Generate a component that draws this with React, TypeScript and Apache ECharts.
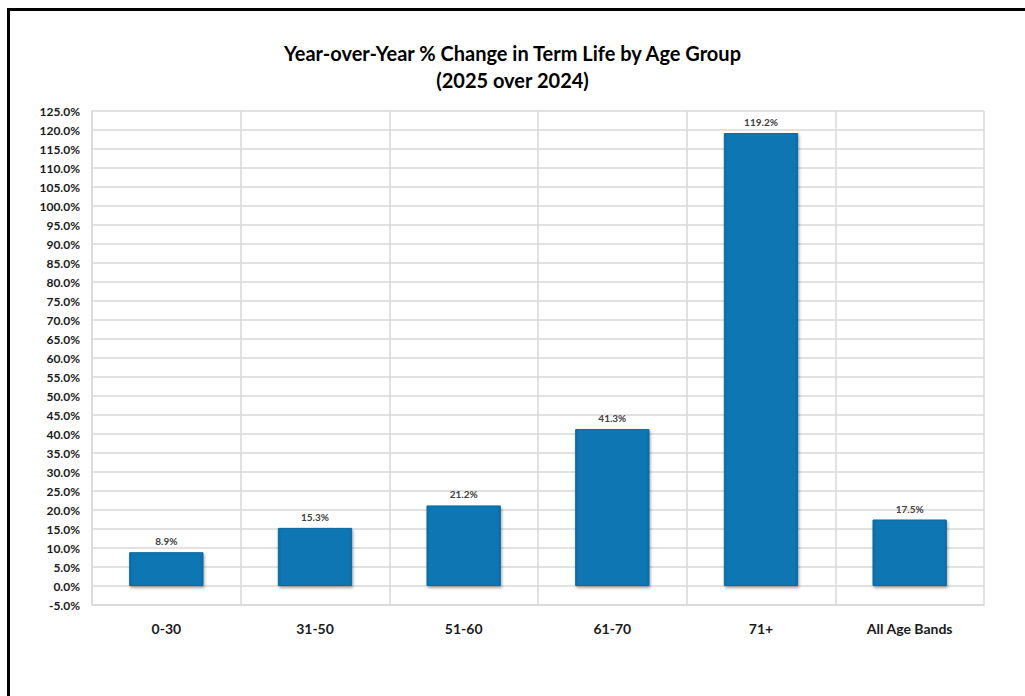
import React, { useEffect, useRef } from "react";
import * as echarts from "echarts";

const categories = ["0-30", "31-50", "51-60", "61-70", "71+", "All Age Bands"];
const values = [8.9, 15.3, 21.2, 41.3, 119.2, 17.5];
const yMin = -5;
const yMax = 125;
const yStep = 5;
const titleText = "Year-over-Year % Change in Term Life by Age Group\n(2025 over 2024)";

const FONT = "Lato, 'Open Sans', sans-serif";

export default function App() {
  const ref = useRef<HTMLDivElement>(null);
  useEffect(() => {
    if (!ref.current) return;
    const chart = echarts.init(ref.current, undefined, { renderer: "svg" });
    chart.setOption({
      animation: false,
      backgroundColor: "#ffffff",
      title: {
        text: titleText,
        left: "center",
        top: 34,
        textStyle: {
          fontFamily: FONT,
          fontSize: 20,
          fontWeight: "bold",
          color: "#000000",
          lineHeight: 27,
        },
      },
      graphic: [
        { type: "line", shape: { x1: 7, y1: 9.5, x2: 1025, y2: 9.5 }, style: { stroke: "#000", lineWidth: 3 } },
        { type: "line", shape: { x1: 8.5, y1: 8, x2: 8.5, y2: 696 }, style: { stroke: "#000", lineWidth: 3 } },
      ],
      grid: { left: 92, right: 41, top: 111, bottom: 91, containLabel: false },
      xAxis: {
        type: "category",
        data: categories,
        axisLine: { onZero: false, lineStyle: { color: "#d9d9d9", width: 1.5 } },
        axisTick: { show: false },
        splitLine: { show: true, lineStyle: { color: "#d9d9d9", width: 1.5 } },
        axisLabel: {
          fontFamily: FONT,
          fontSize: 14,
          fontWeight: "bold",
          color: "#1a1a1a",
          margin: 16,
        },
      },
      yAxis: {
        type: "value",
        min: yMin,
        max: yMax,
        interval: yStep,
        axisLine: { show: true, lineStyle: { color: "#d9d9d9", width: 1.5 } },
        axisTick: { show: false },
        splitLine: { show: true, lineStyle: { color: "#d9d9d9", width: 1.5 } },
        axisLabel: {
          fontFamily: FONT,
          fontSize: 12,
          fontWeight: "bold",
          color: "#1a1a1a",
          margin: 12,
          formatter: (v: number) => v.toFixed(1) + "%",
        },
      },
      series: [
        {
          type: "bar",
          data: values,
          barWidth: "50%",
          itemStyle: {
            color: new echarts.graphic.LinearGradient(0, 0, 1, 0, [
              { offset: 0, color: "#0a6aa3" },
              { offset: 0.04, color: "#0b76b3" },
              { offset: 0.96, color: "#0b76b3" },
              { offset: 1, color: "#0a6aa3" },
            ]),
            borderColor: "#0a689f",
            borderWidth: 1,
            shadowColor: "rgba(0,0,0,0.35)",
            shadowBlur: 3,
            shadowOffsetY: 2,
            shadowOffsetX: 1,
          },
          label: {
            show: true,
            position: "top",
            distance: 6,
            fontFamily: FONT,
            fontSize: 10,
            fontWeight: "bold",
            color: "#404040",
            formatter: (p: any) => p.value.toFixed(1) + "%",
          },
        },
      ],
    });
    return () => chart.dispose();
  }, []);
  return (
    <div
      ref={ref}
      style={{ position: "absolute", left: 0, top: 0, width: 1025, height: 696 }}
    />
  );
}
